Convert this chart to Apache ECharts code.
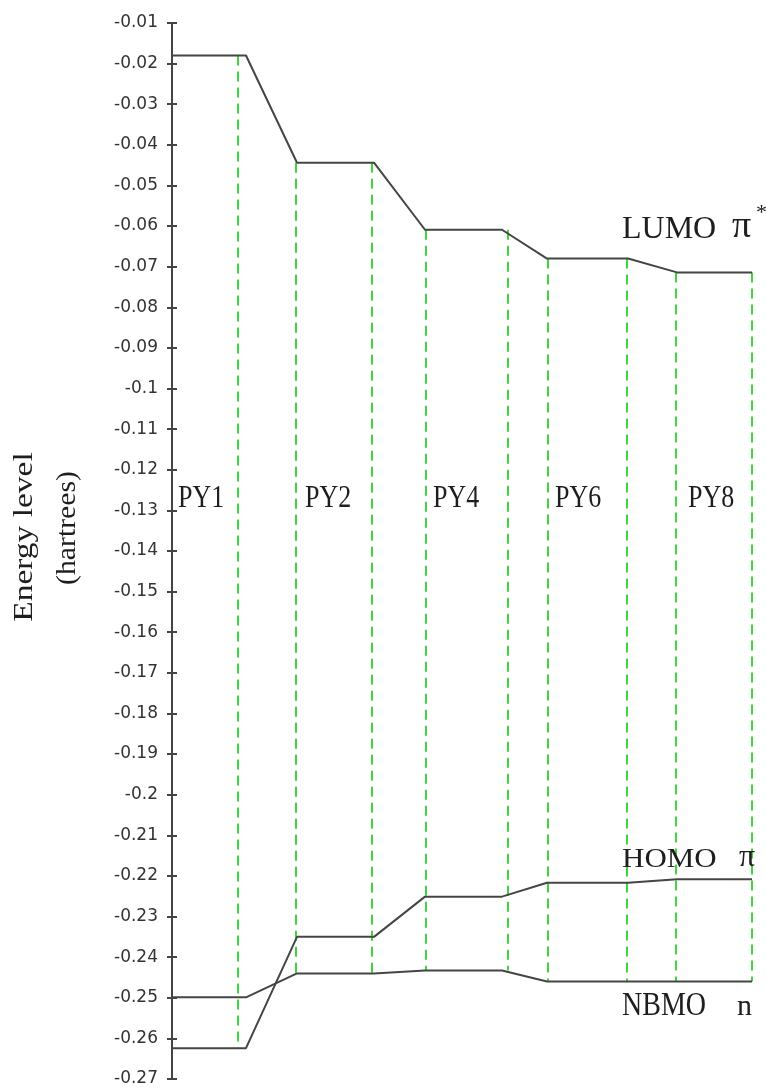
<!DOCTYPE html>
<html>
<head>
<meta charset="utf-8">
<script src="https://cdn.jsdelivr.net/npm/echarts@6/dist/echarts.min.js"></script>
<style>
  html, body { margin: 0; padding: 0; background: #ffffff; }
  #chart { width: 766px; height: 1091px; }
</style>
</head>
<body>
<div id="chart"></div>
<script>
// Frontier orbital energies (hartrees) of the PY oligomers
const molecules = ['PY1', 'PY2', 'PY4', 'PY6', 'PY8'];
const lumo = [-0.0180, -0.0444, -0.0609, -0.0680, -0.0714];
const homo = [-0.2624, -0.2350, -0.2251, -0.2217, -0.2208];
const nbmo = [-0.2499, -0.2440, -0.2433, -0.2460, -0.2460];

// Energy axis range and step
const energyMin = -0.27;
const energyMax = -0.01;
const energyStep = 0.01;

// Level names with their orbital symbols
const levelNames = ['LUMO', 'HOMO', 'NBMO'];
const levelSymbols = ['π', 'π', 'n'];

// Horizontal layout, in x-axis units (pixels to the right of the energy axis)
const levelSpans = [[0, 74], [125, 202], [253, 330], [375, 456], [505, 580]];
const dividerX = [[null, 66], [124, 200], [254, 336], [376, 455], [504, 580]];
const nameX = [6, 133, 261, 383, 516];
const nameEnergy = -0.127;

const LINE = '#454545';
const GREEN = '#3dd63d';
const SERIF = '"Liberation Serif", "Times New Roman", serif';

const chart = echarts.init(document.getElementById('chart'), null, { renderer: 'canvas' });

function levelData(values) {
  const pts = [];
  values.forEach((v, i) => {
    pts.push([levelSpans[i][0], v]);
    pts.push([levelSpans[i][1], v]);
  });
  return pts;
}

const series = [];

// dashed dividers bounding each molecule's column
molecules.forEach((m, i) => {
  const hi = lumo[i];
  const lo = Math.min(homo[i], nbmo[i]);
  dividerX[i].forEach(x => {
    if (x === null) return;
    series.push({
      type: 'line',
      data: [[x, hi], [x, lo]],
      showSymbol: false,
      silent: true,
      z: 1,
      lineStyle: { color: GREEN, width: 2, type: [10, 6] }
    });
  });
});

// orbital level traces
[lumo, homo, nbmo].forEach((vals, k) => {
  series.push({
    name: levelNames[k],
    type: 'line',
    data: levelData(vals),
    showSymbol: false,
    z: 3,
    lineStyle: { color: LINE, width: 2 }
  });
});

const yBase = {
  type: 'value',
  min: energyMin,
  max: energyMax,
  interval: energyStep,
  position: 'left',
  splitLine: { show: false }
};

chart.setOption({
  animation: false,
  backgroundColor: '#ffffff',
  grid: { left: 172, right: 14, top: 23, bottom: 12 },
  xAxis: { type: 'value', min: 0, max: 580, show: false },
  yAxis: [
    Object.assign({}, yBase, {
      axisLine: { show: true, lineStyle: { color: '#444', width: 2 } },
      axisTick: { show: true, inside: false, length: 5, lineStyle: { color: '#444', width: 2 } },
      axisLabel: {
        show: true, margin: 14, color: '#333',
        fontFamily: '"DejaVu Sans", sans-serif', fontSize: 17
      }
    }),
    Object.assign({}, yBase, {
      axisLine: { show: false },
      axisTick: { show: true, inside: true, length: 5, lineStyle: { color: '#444', width: 2 } },
      axisLabel: { show: false }
    })
  ],
  series: series
});

// text annotations placed from the chart's own scales
function px(x, v) { return chart.convertToPixel({ gridIndex: 0 }, [x, v]); }

function text(x, y, str, size, extra) {
  const el = {
    type: 'text', x: x, y: y, z: 10,
    style: {
      text: str, x: 0, y: 0,
      font: size + 'px ' + SERIF,
      fill: '#1e1e1e',
      align: 'left', verticalAlign: 'middle',
      textAlign: 'left', textVerticalAlign: 'middle'
    }
  };
  if (extra) {
    Object.keys(extra).forEach(k => {
      if (k === 'align') { el.style.align = extra.align; el.style.textAlign = extra.align; }
      else el[k] = extra[k];
    });
  }
  return el;
}

const graphics = [];

// axis title
graphics.push(text(25, 537, 'Energy level', 27, { align: 'center', rotation: Math.PI / 2, scaleX: 1.24 }));
graphics.push(text(68, 528, '(hartrees)', 27, { align: 'center', rotation: Math.PI / 2, scaleX: 1.1 }));

// molecule names
molecules.forEach((m, i) => {
  const p = px(nameX[i], nameEnergy);
  graphics.push(text(p[0], p[1], m, 26, { scaleY: 1.24 }));
});

// level labels, anchored to the end of each trace
const lastX = levelSpans[levelSpans.length - 1][1];
const last = molecules.length - 1;
const pL = px(lastX, lumo[last]);
graphics.push(text(pL[0] - 130, pL[1] - 43, levelNames[0], 32));
graphics.push(text(pL[0] - 20, pL[1] - 45, levelSymbols[0], 38));
graphics.push(text(pL[0] + 4, pL[1] - 59, '*', 22));

const pH = px(lastX, homo[last]);
graphics.push(text(pH[0] - 130, pH[1] - 19, levelNames[1], 31, { scaleY: 0.88 }));
graphics.push(text(pH[0] - 13, pH[1] - 22, levelSymbols[1], 32));

const pN = px(lastX, nbmo[last]);
graphics.push(text(pN[0] - 130, pN[1] + 25, levelNames[2], 28, { scaleY: 1.19 }));
graphics.push(text(pN[0] - 15, pN[1] + 26, levelSymbols[2], 30));

chart.setOption({ graphic: graphics });
</script>
</body>
</html>
